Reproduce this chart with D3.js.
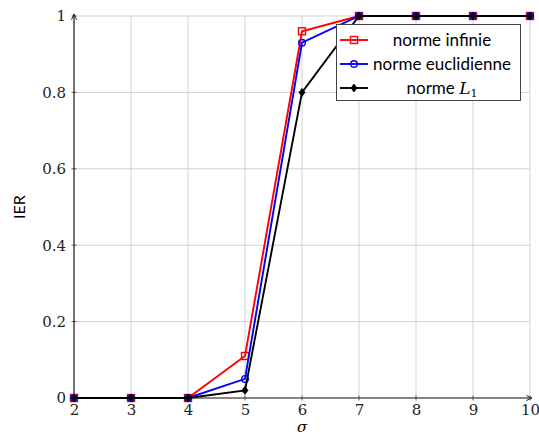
<!DOCTYPE html>
<html>
<head>
<meta charset="utf-8">
<script src="https://cdn.jsdelivr.net/npm/d3@7"></script>
<style>
  body { margin: 0; background: #fff; }
  svg { display: block; }
  .serif { font-family: "DejaVu Serif", "Liberation Serif", serif; }
  .sans { font-family: "Lato", "Open Sans", sans-serif; }
</style>
</head>
<body>
<svg id="chart" width="539" height="437"></svg>
<script>
// σ values along the x axis
const sigma = [2, 3, 4, 5, 6, 7, 8, 9, 10];
// IER for each norm
const normeInfinie = [0, 0, 0, 0.11, 0.96, 1, 1, 1, 1];
const normeEuclidienne = [0, 0, 0, 0.05, 0.93, 1, 1, 1, 1];
const normeL1 = [0, 0, 0, 0.02, 0.80, 1, 1, 1, 1];
const xTicks = [2, 3, 4, 5, 6, 7, 8, 9, 10];
const yTicks = [0, 0.2, 0.4, 0.6, 0.8, 1];

const series = [
  { name: "norme infinie", values: normeInfinie, color: "#ff0000", marker: "square" },
  { name: "norme euclidienne", values: normeEuclidienne, color: "#0000ff", marker: "circle" },
  { name: "norme L1", values: normeL1, color: "#000000", marker: "diamond" }
];

const svg = d3.select("#chart");
const x = d3.scaleLinear().domain([2, 10]).range([74, 530]);
const y = d3.scaleLinear().domain([0, 1]).range([398, 16]);

// grid
const grid = svg.append("g").attr("stroke", "#d3d3d3").attr("stroke-width", 1);
xTicks.forEach(t => grid.append("line")
  .attr("x1", x(t)).attr("x2", x(t)).attr("y1", y(0)).attr("y2", y(1)));
yTicks.forEach(t => grid.append("line")
  .attr("x1", x(2)).attr("x2", x(10)).attr("y1", y(t)).attr("y2", y(t)));

// axes
const xAxis = d3.axisBottom(x).tickValues(xTicks).tickSize(0).tickPadding(6).tickFormat(d3.format("d"));
const yAxis = d3.axisLeft(y).tickValues(yTicks).tickSize(0).tickPadding(8).tickFormat(d => d === 0 || d === 1 ? d : d3.format(".1f")(d));
const gx = svg.append("g").attr("transform", `translate(0,${y(0)})`).call(xAxis);
const gy = svg.append("g").attr("transform", `translate(${x(2)},0)`).call(yAxis);
[gx, gy].forEach(g => {
  g.attr("font-family", null).attr("font-size", null);
  g.select(".domain").remove();
  g.selectAll("text").attr("class", "serif").style("font-size", "15px").attr("fill", "#222");
});
gx.selectAll("text").attr("dy", "0.75em");

// small tick marks along the axes
const tickG = svg.append("g").attr("stroke", "#444").attr("stroke-width", 0.8);
yTicks.forEach(t => tickG.append("line").attr("x1", x(2) - 2.5).attr("x2", x(2) + 2.5).attr("y1", y(t)).attr("y2", y(t)));
xTicks.forEach(t => tickG.append("line").attr("x1", x(t)).attr("x2", x(t)).attr("y1", y(0) - 2.5).attr("y2", y(0) + 2.5));

// axis lines with arrow heads
svg.append("defs").append("marker")
  .attr("id", "arrow").attr("viewBox", "0 0 10 10").attr("refX", 9).attr("refY", 5)
  .attr("markerWidth", 6).attr("markerHeight", 6).attr("orient", "auto")
  .append("path").attr("d", "M1,1.5 L9,5 L1,8.5").attr("fill", "none").attr("stroke", "#222").attr("stroke-width", 1.3);
svg.append("line").attr("x1", x(2)).attr("x2", x(2)).attr("y1", y(0)).attr("y2", y(1) - 2)
  .attr("stroke", "#222").attr("stroke-width", 1.2).attr("marker-end", "url(#arrow)");
svg.append("line").attr("x1", x(2)).attr("x2", x(10) + 2).attr("y1", y(0)).attr("y2", y(0))
  .attr("stroke", "#222").attr("stroke-width", 1.2).attr("marker-end", "url(#arrow)");

// axis titles
svg.append("text").attr("x", 302).attr("y", 432).attr("text-anchor", "middle")
  .attr("class", "serif").style("font-style", "italic").style("font-size", "15px").text("σ");
svg.append("text").attr("transform", `translate(25,${y(0.5)}) rotate(-90)`).attr("text-anchor", "middle")
  .attr("class", "sans").style("font-size", "16px").text("IER");

function drawMarker(g, type, cx, cy, color) {
  if (type === "square") {
    g.append("rect").attr("x", cx - 3.5).attr("y", cy - 3.5).attr("width", 7).attr("height", 7)
      .attr("fill", "none").attr("stroke", color).attr("stroke-width", 1.4);
  } else if (type === "circle") {
    g.append("circle").attr("cx", cx).attr("cy", cy).attr("r", 3.3)
      .attr("fill", "none").attr("stroke", color).attr("stroke-width", 1.4);
  } else {
    g.append("path").attr("d", `M${cx},${cy - 4} L${cx + 3},${cy} L${cx},${cy + 4} L${cx - 3},${cy} Z`)
      .attr("fill", color).attr("stroke", color).attr("stroke-width", 0.8);
  }
}

// series lines and markers
const line = d3.line().x((d, i) => x(sigma[i])).y(d => y(d));
series.forEach(s => {
  const g = svg.append("g");
  g.append("path").datum(s.values).attr("d", line)
    .attr("fill", "none").attr("stroke", s.color).attr("stroke-width", 1.9);
  s.values.forEach((v, i) => drawMarker(g, s.marker, x(sigma[i]), y(v), s.color));
});

// legend
const lg = svg.append("g");
lg.append("rect").attr("x", 336.5).attr("y", 24.5).attr("width", 184).attr("height", 76)
  .attr("fill", "#fff").attr("stroke", "#444").attr("stroke-width", 1);
series.forEach((s, i) => {
  const cy = 40 + i * 24;
  lg.append("line").attr("x1", 340).attr("x2", 368).attr("y1", cy).attr("y2", cy)
    .attr("stroke", s.color).attr("stroke-width", 1.9);
  drawMarker(lg, s.marker, 354, cy, s.color);
  const t = lg.append("text").attr("x", 442).attr("y", cy + 5.5).attr("text-anchor", "middle")
    .attr("class", "sans").style("font-size", "17px").attr("fill", "#000");
  if (s.marker === "diamond") {
    t.append("tspan").text("norme ");
    t.append("tspan").attr("class", "serif").style("font-style", "italic").style("font-size", "17px").text("L");
    t.append("tspan").attr("class", "serif").style("font-size", "11px").attr("dy", 3).text("1");
  } else {
    t.text(s.name);
  }
});
</script>
</body>
</html>
